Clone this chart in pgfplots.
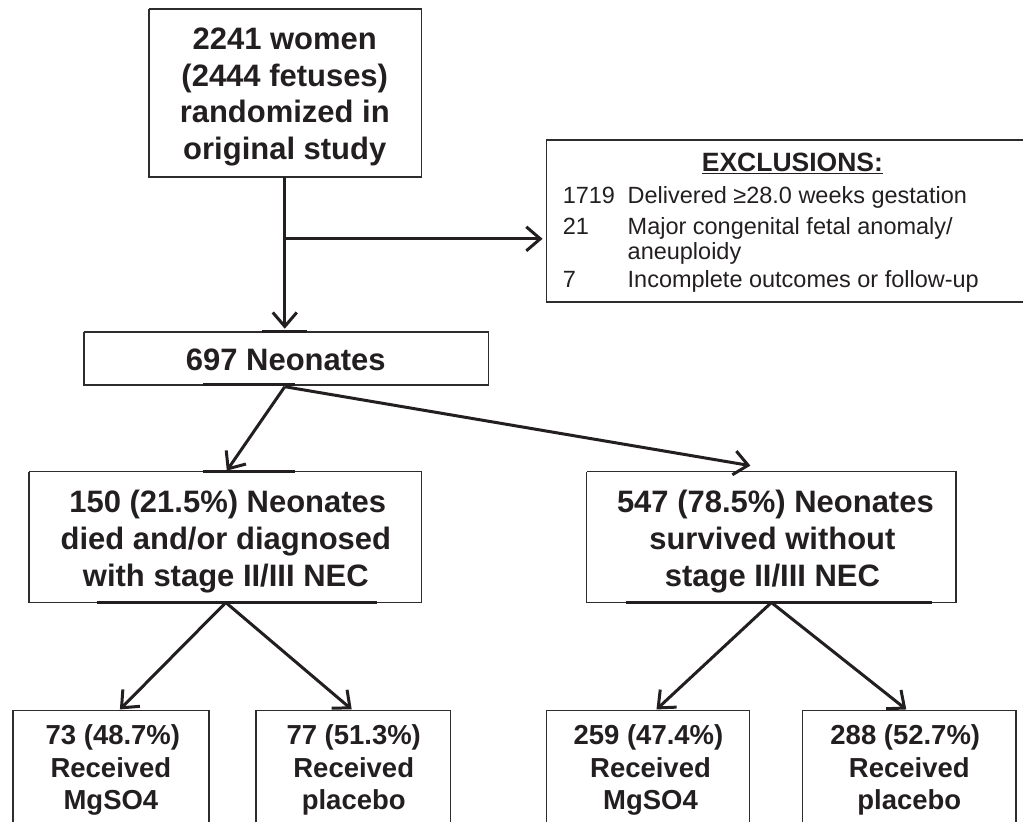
\documentclass[border=0pt]{standalone}
\usepackage{pgfplots}
\pgfplotsset{compat=1.18}
\usepackage{fontspec}
\setmainfont{Liberation Sans}
\usetikzlibrary{arrows.meta}
\definecolor{ink}{RGB}{35,31,32}
\definecolor{frame}{RGB}{45,45,45}
\tikzset{
  box/.style={frame,line width=1.6pt,mark=none,line join=miter},
  seg/.style={ink,line width=3pt,mark=none},
  arr/.style={ink,line width=3pt,mark=none,-{Straight Barb[length=14pt,width=24pt,line width=3pt]}},
  big/.style={font=\fontsize{31}{37}\selectfont\bfseries,text=ink,anchor=base,inner sep=0pt},
  mid/.style={font=\fontsize{27.5}{33}\selectfont\bfseries,text=ink,anchor=base,inner sep=0pt},
  sm/.style={font=\fontsize{23.5}{28}\selectfont,text=ink,anchor=base west,inner sep=0pt},
}
\begin{document}
\begin{tikzpicture}
\begin{axis}[width=1024pt,height=823pt,scale only axis,
  xmin=0,xmax=1024,ymin=0,ymax=823,y dir=reverse,
  hide axis,clip=false,
]
\path (0,0) rectangle (1024,823);
% boxes
\addplot[box] coordinates {(149,9) (422,9) (422,177) (149,177) (149,9)};
\addplot[box] coordinates {(1024,140) (547,140) (547,302) (1024,302)};
\addplot[box] coordinates {(84,332) (489,332) (489,385) (84,385) (84,332)};
\addplot[box] coordinates {(29,472) (422,472) (422,603) (29,603) (29,472)};
\addplot[box] coordinates {(587,472) (957,472) (957,603) (587,603) (587,472)};
\addplot[box] coordinates {(13,823) (13,711) (209,711) (209,823)};
\addplot[box] coordinates {(256,823) (256,711) (451,711) (451,823)};
\addplot[box] coordinates {(547,823) (547,711) (750,711) (750,823)};
\addplot[box] coordinates {(803,823) (803,711) (1017,711) (1017,823)};
% darker border segments
\addplot[seg] coordinates {(262,332) (307,332)};
\addplot[seg] coordinates {(203,385) (295,385)};
\addplot[seg] coordinates {(203,472) (295,472)};
\addplot[seg] coordinates {(97,603) (377,603)};
\addplot[seg] coordinates {(626,603) (933,603)};
% arrows
\addplot[arr] coordinates {(285,177) (285,329)};
\addplot[arr] coordinates {(285,239) (543,239)};
\addplot[arr] coordinates {(285,387) (227,471)};
\addplot[arr] coordinates {(285,387) (751,466)};
\addplot[arr] coordinates {(226,603) (120,710)};
\addplot[arr] coordinates {(226,603) (352,710)};
\addplot[arr] coordinates {(772,603) (657,710)};
\addplot[arr] coordinates {(772,603) (907,710)};
% texts
\node[big] at (285,50) {2241 women};
\node[big] at (285,86.5) {(2444 fetuses)};
\node[big] at (285,123) {randomized in};
\node[big] at (285,159.5) {original study};
\node[font=\fontsize{26.5}{32}\selectfont\bfseries,text=ink,anchor=base,inner sep=0pt] at (793,172) {\underline{EXCLUSIONS:}};
\node[sm] at (563,204) {1719};
\node[sm] at (628,204) {Delivered ≥28.0 weeks gestation};
\node[sm] at (563,235) {21};
\node[sm] at (628,235) {Major congenital fetal anomaly/};
\node[sm] at (628,260) {aneuploidy};
\node[sm] at (563,288) {7};
\node[sm] at (628,288) {Incomplete outcomes or follow-up};
\node[big] at (286,371) {697 Neonates};
\node[big] at (228,513) {150 (21.5\%) Neonates};
\node[big] at (226,550) {died and/or diagnosed};
\node[big] at (226,587) {with stage II/III NEC};
\node[big] at (776,513) {547 (78.5\%) Neonates};
\node[big] at (773,550) {survived without};
\node[big] at (773,587) {stage II/III NEC};
\node[mid] at (113,745) {73 (48.7\%)};
\node[mid] at (111,778) {Received};
\node[mid] at (111,810) {MgSO4};
\node[mid] at (354,745) {77 (51.3\%)};
\node[mid] at (354,778) {Received};
\node[mid] at (354,810) {placebo};
\node[mid] at (649,745) {259 (47.4\%)};
\node[mid] at (651,778) {Received};
\node[mid] at (651,810) {MgSO4};
\node[mid] at (906,745) {288 (52.7\%)};
\node[mid] at (910,778) {Received};
\node[mid] at (910,810) {placebo};
\end{axis}
\end{tikzpicture}
\end{document}
